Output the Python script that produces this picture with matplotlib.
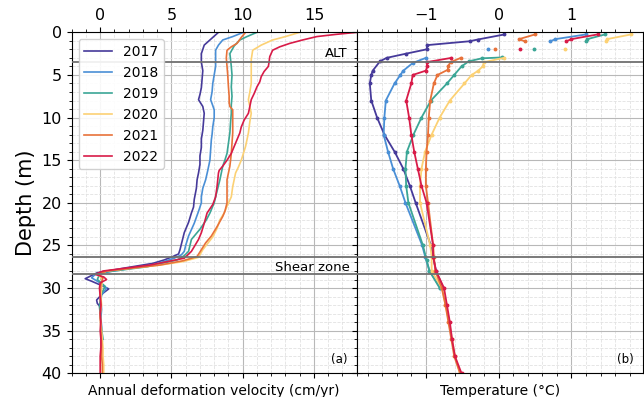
import numpy as np
import matplotlib
matplotlib.use("Agg")
import matplotlib.pyplot as plt
import matplotlib.ticker as plticker

years = ["2017", "2018", "2019", "2020", "2021", "2022"]
colors = ["#463a9a", "#4a8fd6", "#3ba696", "#fcd174", "#e8723a", "#d81b48"]

# annual deformation velocity (cm/yr) against depth (m)
vel_depth_2017 = [0, 0.6, 1.5, 2.5, 3.5, 4.5, 5.5, 6.5, 7.3, 7.9, 8.7, 9.5, 10.5, 11.5, 12.5, 13.5,
                  14.5, 15.5, 16.5, 17.3, 18.3, 19.6, 20.5, 21.2, 22.3, 23.5, 24.5, 25.5, 26.0, 26.3,
                  26.7, 27.1, 27.6, 28.2, 28.9, 29.2, 29.7, 30.1, 30.6, 31.4, 31.8, 32.2, 32.8]
vel_2017 = [8.3, 7.9, 7.3, 7.1, 7.1, 7.2, 7.15, 7.1, 7.0, 6.9, 7.2, 7.3, 7.25, 7.2, 7.1, 7.1,
            7.0, 7.0, 6.9, 6.8, 6.75, 6.6, 6.55, 6.4, 6.2, 5.9, 5.75, 5.6, 5.5, 5.1,
            4.5, 3.7, 1.9, -0.2, -1.05, -0.6, 0.1, 0.6, 0.2, -0.25, -0.2, 0.0, 0.0]

vel_depth_2018 = [0, 0.5, 0.9, 1.5, 2.1, 3.0, 4.0, 5.0, 6.0, 7.0, 7.9, 8.6, 9.1, 10.0, 11.1, 12.0,
                  12.6, 13.8, 15.0, 16.2, 17.3, 18.3, 19.3, 20.0, 21.0, 22.4, 23.9, 25.0, 25.7, 26.1,
                  26.5, 27.3, 28.0, 28.4, 28.8, 29.4, 30.0, 30.8, 31.5, 32.5, 33.5, 34.5, 35.5, 36.2]
vel_2018 = [10.05, 9.3, 8.6, 8.3, 8.1, 8.1, 8.1, 8.0, 7.9, 7.85, 7.75, 7.9, 8.0, 8.0, 7.9, 7.85,
            7.8, 7.75, 7.7, 7.55, 7.4, 7.2, 7.1, 7.1, 6.9, 6.6, 6.2, 6.0, 5.9, 5.7,
            5.2, 3.7, 0.9, -0.35, -0.6, 0.0, 0.45, 0.1, 0.05, 0.1, 0.05, 0.1, 0.15, 0.15]

vel_depth_2019 = [0, 0.5, 0.9, 1.6, 2.5, 3.2, 4.0, 5.0, 6.4, 7.5, 8.5, 9.5, 10.5, 11.8, 13.0, 14.2,
                  15.0, 15.7, 16.5, 17.3, 18.3, 19.3, 20.0, 21.2, 22.0, 23.1, 24.3, 25.0, 25.7, 26.2,
                  26.7, 27.5, 28.2, 29.0, 29.8, 30.6, 31.5, 32.2, 33.0, 34.0, 35.0, 36.0]
vel_2019 = [11.0, 10.3, 9.8, 9.4, 9.1, 9.15, 9.2, 9.25, 9.2, 9.25, 9.2, 9.2, 9.15, 9.1, 9.0, 8.9,
            8.75, 8.6, 8.5, 8.4, 8.25, 8.1, 8.0, 7.7, 7.45, 7.0, 6.4, 6.3, 6.2, 5.9,
            5.4, 3.3, 0.0, -0.2, 0.35, 0.1, 0.0, -0.05, 0.0, 0.05, 0.1, 0.2]

vel_depth_2020 = [0, 0.5, 0.9, 1.5, 2.1, 3.2, 4.5, 6.0, 7.0, 7.9, 8.7, 9.5, 10.5, 11.8, 12.6, 13.4,
                  14.2, 15.0, 15.8, 16.5, 17.3, 18.1, 19.3, 20.4, 21.2, 22.0, 23.0, 24.0, 25.5, 26.4,
                  26.9, 27.3, 28.0, 28.5, 29.0, 30, 31, 32, 33, 34, 35, 36, 37, 38, 39, 40]
vel_2020 = [14.0, 13.0, 12.1, 11.3, 10.7, 10.6, 10.6, 10.6, 10.5, 10.4, 10.5, 10.6, 10.5, 10.4, 10.3, 10.2,
            10.05, 9.9, 9.7, 9.5, 9.4, 9.3, 9.2, 8.9, 8.7, 8.4, 8.2, 7.9, 7.2, 6.9,
            5.8, 4.2, 0.45, -0.1, 0.15, 0.1, 0.05, 0.1, 0.0, 0.05, 0.1, 0.15, 0.2, 0.2, 0.25, 0.25]

vel_depth_2021 = [0, 0.6, 1.3, 1.7, 2.1, 3.0, 4.0, 5.0, 6.4, 7.5, 8.3, 8.7, 9.1, 9.5, 10.5, 11.8,
                  13.0, 14.2, 15.0, 15.7, 16.5, 17.3, 18.2, 19.3, 20.0, 21.0, 21.6, 22.8, 23.9, 24.7,
                  25.5, 26.3, 26.8, 27.3, 28.0, 28.4, 28.8, 29.5, 30.5, 32, 33.5, 35, 36.5, 38, 39, 40]
vel_2021 = [10.2, 9.9, 9.6, 9.2, 8.9, 8.85, 8.9, 8.95, 9.0, 9.05, 9.05, 9.1, 9.3, 9.3, 9.3, 9.3,
            9.25, 9.2, 9.15, 9.1, 9.0, 8.9, 8.9, 8.9, 8.9, 8.75, 8.6, 8.2, 7.8, 7.4,
            7.1, 6.8, 5.8, 4.2, 0.45, -0.1, 0.2, 0.05, 0.0, 0.05, 0.0, 0.05, 0.1, 0.1, 0.15, 0.15]

vel_depth_2022 = [0, 0.25, 0.5, 0.9, 1.3, 1.7, 2.1, 2.85, 3.5, 4.0, 4.6, 5.2, 5.8, 6.4, 7.2, 7.9,
                  8.7, 9.5, 10.3, 11.1, 11.8, 12.6, 13.4, 14.2, 15.0, 15.7, 16.2, 16.5, 17.3, 18.1,
                  19.3, 20.2, 21.2, 22.4, 23.5, 24.3, 25.0, 25.7, 26.5, 27.3, 28.0, 28.4, 28.7, 29.0,
                  29.4, 30, 31, 32, 33, 34, 35, 36, 37, 38, 39, 40]
vel_2022 = [18.0, 16.5, 15.2, 14.2, 13.3, 12.6, 12.1, 11.9, 11.85, 11.8, 11.5, 11.3, 11.2, 11.0, 10.8, 10.6,
            10.5, 10.4, 10.1, 9.9, 9.8, 9.6, 9.4, 9.2, 8.9, 8.6, 8.35, 8.3, 8.25, 8.2,
            8.1, 7.9, 7.5, 7.3, 7.1, 6.9, 6.65, 6.4, 5.9, 3.5, 0.2, -0.35, 0.25, 0.45,
            0.0, -0.05, 0.0, 0.05, 0.0, 0.05, 0.0, 0.05, 0.05, 0.0, 0.0, 0.0]

# ground temperature (°C) against depth (m); None splits the near-surface readings
temp_depth_2017 = [0.25, 0.85, 1.05, 1.5, 2.0, 2.5, 3.0, 3.4, 4.5, 5.0, 6.0, 8.0, 10.0, 12.0, 14.0,
                   16.0, 18.0, 20.0, 25.0, 26.3, 28.0, 30.0]
temp_2017 = [0.08, -0.29, -0.40, -0.98, -0.99, -1.27, -1.54, -1.63, -1.73, -1.75, -1.77, -1.75, -1.67,
             -1.57, -1.43, -1.31, -1.22, -1.14, -0.93, -0.9, -0.86, -0.76]

temp_depth_2018 = [0.25, 0.8, 1.05, None, 2.0, None, 3.0, 3.6, 4.5, 5.0, 6.0, 8.0, 10.0, 12.0, 14.0,
                   16.0, 18.0, 20.0, 25.0, 26.3, 28.0, 30.0]
temp_2018 = [1.2, 0.78, 0.71, None, -0.15, None, -1.0, -1.18, -1.31, -1.35, -1.43, -1.55, -1.57, -1.58,
             -1.52, -1.45, -1.36, -1.28, -1.05, -1.01, -0.95, -0.8]

temp_depth_2019 = [0.25, 0.8, 1.05, None, 2.0, None, 2.95, 3.05, 3.4, 4.0, 5.0, 6.0, 8.0, 10.0, 12.0,
                   14.0, 16.0, 18.0, 20.0, 25.0, 26.7, 28.0, 30.0]
temp_2019 = [1.46, 1.22, 1.2, None, 0.48, None, 0.04, -0.23, -0.41, -0.51, -0.61, -0.71, -0.93, -1.06,
             -1.17, -1.26, -1.28, -1.27, -1.24, -1.04, -0.99, -0.95, -0.81]

temp_depth_2020 = [0.25, 0.8, 1.05, None, 2.0, None, 3.0, 3.5, 4.0, 4.5, 5.0, 6.0, 8.0, 10.0, 12.0,
                   14.0, 16.0, 18.0, 20.0, 25.0, 26.3, 28.0, 30.0, 32.0, 34.0, 36.0, 38.0, 40.0]
temp_2020 = [1.82, 1.49, 1.48, None, 0.91, None, 0.07, -0.2, -0.22, -0.28, -0.37, -0.47, -0.67, -0.81,
             -0.92, -1.01, -1.06, -1.08, -1.08, -0.94, -0.92, -0.92, -0.78, -0.73, -0.68, -0.64, -0.6, -0.53]

temp_depth_2021 = [0.25, 0.8, 1.05, None, 2.0, None, 3.0, 3.5, 3.9, 4.4, 5.0, 6.0, 8.0, 10.0, 12.0,
                   14.0, 16.0, 18.0, 20.0, 25.0, 26.3, 28.0, 30.0, 32.0, 34.0, 36.0, 38.0, 40.0]
temp_2021 = [0.5, 0.28, 0.36, None, -0.05, None, -0.52, -0.66, -0.69, -0.70, -0.84, -0.89, -0.94, -0.96,
             -0.97, -0.99, -1.0, -1.0, -0.97, -0.9, -0.89, -0.87, -0.78, -0.73, -0.69, -0.65, -0.61, -0.53]

temp_depth_2022 = [0.25, 0.8, 1.05, None, 2.0, None, 3.0, 3.5, 4.0, 4.5, 5.0, 6.0, 8.0, 10.0, 12.0,
                   14.0, 16.0, 18.0, 20.0, 25.0, 26.3, 28.0, 30.0, 32.0, 34.0, 36.0, 38.0, 40.0]
temp_2022 = [1.36, 1.0, 0.93, None, 0.29, None, -0.65, -0.99, -0.98, -1.0, -1.18, -1.2, -1.27, -1.23,
             -1.2, -1.16, -1.11, -1.06, -0.99, -0.9, -0.9, -0.86, -0.75, -0.71, -0.67, -0.64, -0.6, -0.51]

alt_depth = 3.5
shear_top = 26.4
shear_bottom = 28.4

vel_depths = [vel_depth_2017, vel_depth_2018, vel_depth_2019, vel_depth_2020, vel_depth_2021, vel_depth_2022]
vels = [vel_2017, vel_2018, vel_2019, vel_2020, vel_2021, vel_2022]
temp_depths = [temp_depth_2017, temp_depth_2018, temp_depth_2019, temp_depth_2020, temp_depth_2021, temp_depth_2022]
temps = [temp_2017, temp_2018, temp_2019, temp_2020, temp_2021, temp_2022]


def as_float(values):
    return np.array([np.nan if v is None else v for v in values], dtype=float)


fig = plt.figure(figsize=(6.44, 3.97), dpi=100)
ax1 = fig.add_axes([0.1113, 0.0597, 0.4426, 0.8589])
ax2 = fig.add_axes([0.5539, 0.0597, 0.4441, 0.8589], sharey=ax1)

for y, c, d, v in zip(years, colors, vel_depths, vels):
    ax1.plot(v, d, "-", color=c, linewidth=1.2, label=y)

for c, d, t in zip(colors, temp_depths, temps):
    ax2.plot(as_float(t), as_float(d), "-", color=c, linewidth=1.3,
             marker="o", markersize=1.8)

for ax in (ax1, ax2):
    for h in (alt_depth, shear_top, shear_bottom):
        ax.axhline(h, color="#707070", linewidth=1.3, zorder=3)
    ax.yaxis.set_major_locator(plticker.MultipleLocator(5))
    ax.yaxis.set_minor_locator(plticker.MultipleLocator(1))
    ax.grid(True, which="major", color="#b8b8b8", linestyle="-", linewidth=0.8)
    ax.grid(True, which="minor", color="#e2e2e2", linestyle="--", linewidth=0.6)
    ax.set_axisbelow(True)
    ax.tick_params(which="both", top=True, right=True, bottom=True, left=True,
                   labeltop=True, labelbottom=False, labelsize=11.5)

ax1.set_ylim(40, 0)
ax1.set_xlim(-2, 18)
ax1.xaxis.set_major_locator(plticker.MultipleLocator(5))
ax1.xaxis.set_minor_locator(plticker.MultipleLocator(1))
ax2.set_xlim(-1.95, 1.98)
ax2.xaxis.set_major_locator(plticker.MultipleLocator(1))
ax2.xaxis.set_minor_locator(plticker.MultipleLocator(0.2))
ax2.tick_params(labelleft=False)

ax1.set_ylabel("Depth (m)", fontsize=15)
ax1.set_xlabel("Annual deformation velocity (cm/yr)", fontsize=10, labelpad=4)
ax2.set_xlabel("Temperature (°C)", fontsize=10, labelpad=4)

tr1 = ax1.get_yaxis_transform()
tr2 = ax2.get_yaxis_transform()
ax1.text(0.967, 2.86, "ALT", transform=tr1, ha="right", va="baseline", fontsize=9.5)
ax1.text(0.976, 27.95, "Shear zone", transform=tr1, ha="right", va="baseline", fontsize=9.5)
ax1.text(0.967, 38.8, "(a)", transform=tr1, ha="right", va="baseline", fontsize=8.5)
ax2.text(0.967, 38.8, "(b)", transform=tr2, ha="right", va="baseline", fontsize=8.5)

ax1.legend(loc="upper left", fontsize=10, framealpha=0.9)

fig.savefig("out.png", dpi=100)
